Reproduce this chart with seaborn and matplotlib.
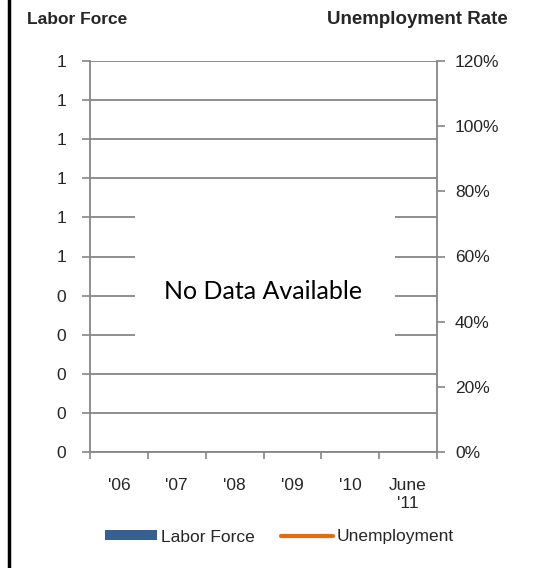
import numpy as np
import pandas as pd
import matplotlib
matplotlib.use("Agg")
import matplotlib.pyplot as plt
import seaborn as sns
from matplotlib.patches import Patch, Rectangle
from matplotlib.lines import Line2D

# categories on the x axis; no values were published for this area
years = ["'06", "'07", "'08", "'09", "'10", "June\n'11"]
labor_force = [np.nan, np.nan, np.nan, np.nan, np.nan, np.nan]
unemployment = [np.nan, np.nan, np.nan, np.nan, np.nan, np.nan]

left_ticks = [0.0, 0.1, 0.2, 0.3, 0.4, 0.5, 0.6, 0.7, 0.8, 0.9, 1.0]
left_tick_labels = ['0', '0', '0', '0', '0', '1', '1', '1', '1', '1', '1']
right_ticks = [0.0, 0.2, 0.4, 0.6, 0.8, 1.0, 1.2]
right_tick_labels = ['0%', '20%', '40%', '60%', '80%', '100%', '120%']

BLUE = '#376092'
ORANGE = '#E46C0A'
GRID = '#868686'

sns.set_style("white")
plt.rcParams['font.family'] = ['Liberation Sans', 'DejaVu Sans']
FS = 12.5

df = pd.DataFrame({'year': years, 'labor': labor_force, 'unemp': unemployment})

fig = plt.figure(figsize=(5.34, 5.68), dpi=100)
ax = fig.add_axes([90 / 534, 1 - 452 / 568, 347 / 534, 391 / 568])

ax.bar(np.arange(len(years)), df['labor'], color=BLUE, width=0.6)
ax.set_xlim(-0.5, len(years) - 0.5)
ax.set_ylim(0, 1)
ax.set_yticks(left_ticks)
ax.set_yticklabels(left_tick_labels, fontsize=FS)
ax.tick_params(axis='y', length=6, width=1.2, color=GRID, pad=11, direction='out', left=True)
ax.grid(axis='y', color=GRID, linewidth=1.3)
ax.grid(axis='x', visible=False)
ax.set_axisbelow(True)

# ticks between categories, labels centred on categories
ax.set_xticks(np.arange(-0.5, len(years), 1))
ax.set_xticklabels([''] * (len(years) + 1))
ax.set_xticks(np.arange(len(years)), minor=True)
ax.set_xticklabels(years, minor=True, fontsize=FS, ha='center', va='top', linespacing=1.25)
ax.tick_params(axis='x', which='major', length=5, width=1.2, color=GRID, direction='out', bottom=True)
ax.tick_params(axis='x', which='minor', length=0, pad=19)

for side in ['left', 'right', 'bottom']:
    ax.spines[side].set_color(GRID)
    ax.spines[side].set_linewidth(1.3)
ax.spines['top'].set_visible(False)

ax2 = ax.twinx()
sns.lineplot(x=np.arange(len(years)), y=df['unemp'], ax=ax2, color=ORANGE, linewidth=3)
ax2.set_xlim(-0.5, len(years) - 0.5)
ax2.set_ylim(0, 1.2)
ax2.set_yticks(right_ticks)
ax2.set_yticklabels(right_tick_labels, fontsize=FS)
ax2.set_ylabel('')
ax2.tick_params(axis='y', length=6, width=1.2, color=GRID, pad=7, direction='out', right=True)
for side in ['left', 'right', 'bottom', 'top']:
    ax2.spines[side].set_visible(False)

# white box with the no-data message over the gridlines
ax.add_patch(Rectangle((0.13, 0.248), 0.749, 0.397, transform=ax.transAxes,
                       facecolor='white', edgecolor='none', zorder=2))
ax.text(0.50, 0.41, 'No Data Available', transform=ax.transAxes, ha='center', va='center',
        fontsize=18, family=['Lato', 'DejaVu Sans'], color='black', zorder=3)

fig.text(27 / 534, 1 - 20 / 568, 'Labor Force', fontsize=FS, fontweight='bold', va='center', ha='left')
fig.text(508 / 534, 1 - 20 / 568, 'Unemployment Rate', fontsize=13.5, fontweight='bold', va='center', ha='right')

handles = [Patch(facecolor=BLUE, edgecolor='none'), Line2D([0], [0], color=ORANGE, linewidth=3)]
fig.legend(handles, ['Labor Force', 'Unemployment'], loc='center', bbox_to_anchor=(0.523, 1 - 537 / 568),
           ncol=2, frameon=False, fontsize=FS, handlelength=3.0, handleheight=0.5,
           handletextpad=0.2, columnspacing=1.5)

# black border along the left edge
fig.add_artist(Line2D([9 / 534, 9 / 534], [0, 1], transform=fig.transFigure, color='black', linewidth=2.5))

fig.savefig('out.png', dpi=100)
